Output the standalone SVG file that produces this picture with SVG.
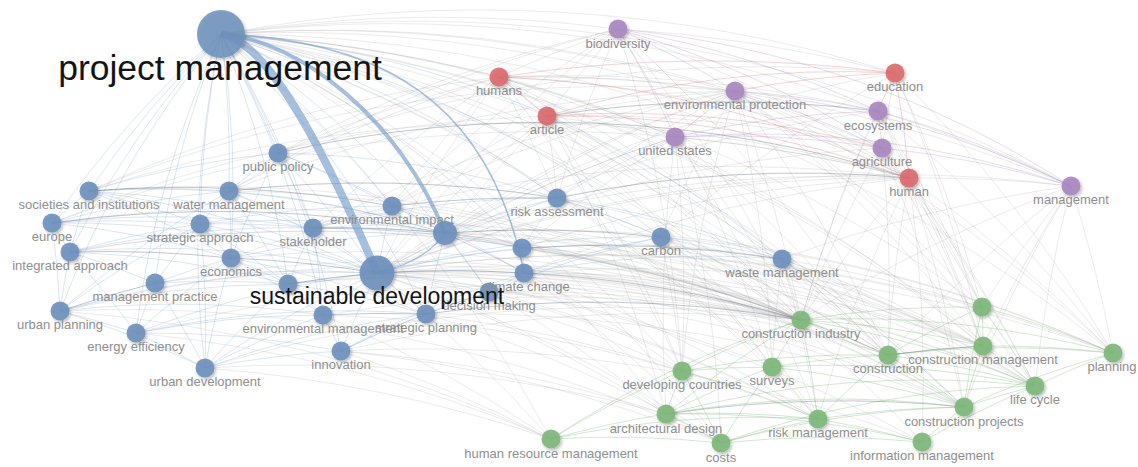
<svg xmlns="http://www.w3.org/2000/svg" width="1138" height="467" viewBox="0 0 1138 467">
<style>
  .edges path{fill:none}
  .eg path{stroke:#8c8c8c;stroke-opacity:.2;stroke-width:.9}
  .eb path{stroke:#7399c6;stroke-opacity:.28;stroke-width:.9}
  .er path{stroke:#e07f82;stroke-opacity:.38;stroke-width:.9}
  .ep path{stroke:#a987bf;stroke-opacity:.32;stroke-width:.9}
  .en path{stroke:#7fb87a;stroke-opacity:.38;stroke-width:.9}
  .ed path{stroke:#5d6b7c;stroke-opacity:.38;stroke-width:1}
  .strong path{stroke:#7ba0cb;stroke-opacity:.68}
  .node circle{filter:url(#shade);fill-opacity:.9}
  .blue circle{fill:#6d90bc}
  .red circle{fill:#dc6a6d}
  .purple circle{fill:#a886c0}
  .green circle{fill:#7db879}
  .node text{font-family:"Liberation Sans",Arial,sans-serif;font-size:13px;fill:#8e8e8e;text-anchor:middle}
  .node text.big{fill:#141414}
</style>
<defs>
  <filter id="shade" x="-50%" y="-50%" width="200%" height="200%">
    <feDropShadow dx="1.5" dy="2" stdDeviation="1.6" flood-color="#000" flood-opacity=".28"/>
  </filter>
</defs>
<rect width="1138" height="467" fill="#fff"/>

<g id="connectors" class="edges">
  <!-- links between clusters -->
  <g class="eg">
    <path d="M221 34A1400 1400 0 0 1 499 77"/><path d="M221 34A1400 1400 0 0 1 547 116"/><path d="M221 34A1400 1400 0 0 1 618 29"/>
    <path d="M221 34A1400 1400 0 0 1 735 91"/><path d="M221 34A1400 1400 0 0 1 675 137"/><path d="M221 34A1400 1400 0 0 1 895 73"/>
    <path d="M221 34A1400 1400 0 0 1 878 111"/><path d="M221 34A1400 1400 0 0 1 882 148"/><path d="M221 34A1400 1400 0 0 1 909 178"/>
    <path d="M221 34A1400 1400 0 0 1 1071 186"/><path d="M221 34A1400 1400 0 0 1 801 320"/><path d="M221 34A1400 1400 0 0 1 888 355"/>
    <path d="M221 34A1400 1400 0 0 1 983 346"/><path d="M221 34A1400 1400 0 0 1 1113 353"/><path d="M221 34A1400 1400 0 0 1 1035 386"/>
    <path d="M221 34A1400 1400 0 0 1 964 407"/><path d="M221 34A1400 1400 0 0 1 982 307"/><path d="M221 34A1400 1400 0 0 1 772 367"/>
    <path d="M221 34A1400 1400 0 0 1 682 371"/><path d="M221 34A1400 1400 0 0 1 666 414"/><path d="M221 34A1400 1400 0 0 1 818 419"/>
    <path d="M221 34A1400 1400 0 0 1 721 443"/><path d="M221 34A1400 1400 0 0 1 551 439"/><path d="M221 34A1400 1400 0 0 1 922 442"/>

    <path d="M377 273A1400 1400 0 0 1 499 77"/><path d="M377 273A1400 1400 0 0 1 547 116"/><path d="M377 273A1400 1400 0 0 1 618 29"/>
    <path d="M377 273A1400 1400 0 0 1 735 91"/><path d="M377 273A1400 1400 0 0 1 675 137"/><path d="M377 273A1400 1400 0 0 1 895 73"/>
    <path d="M377 273A1400 1400 0 0 1 878 111"/><path d="M377 273A1400 1400 0 0 1 882 148"/><path d="M377 273A1400 1400 0 0 1 909 178"/>
    <path d="M377 273A1400 1400 0 0 1 1071 186"/><path d="M377 273A1400 1400 0 0 1 801 320"/><path d="M377 273A1400 1400 0 0 1 888 355"/>
    <path d="M377 273A1400 1400 0 0 1 983 346"/><path d="M377 273A1400 1400 0 0 1 1113 353"/><path d="M377 273A1400 1400 0 0 1 1035 386"/>
    <path d="M377 273A1400 1400 0 0 1 964 407"/><path d="M377 273A1400 1400 0 0 1 982 307"/><path d="M377 273A1400 1400 0 0 1 772 367"/>
    <path d="M377 273A1400 1400 0 0 1 682 371"/><path d="M377 273A1400 1400 0 0 1 666 414"/><path d="M377 273A1400 1400 0 0 1 818 419"/>
    <path d="M377 273A1400 1400 0 0 1 721 443"/><path d="M377 273A1400 1400 0 0 1 922 442"/><path d="M377 273A1400 1400 0 0 1 551 439"/>

    <path d="M445 233A1400 1400 0 0 1 801 320"/><path d="M445 233A1400 1400 0 0 1 888 355"/><path d="M445 233A1400 1400 0 0 1 983 346"/>
    <path d="M445 233A1400 1400 0 0 1 1113 353"/><path d="M445 233A1400 1400 0 0 1 909 178"/><path d="M445 233A1400 1400 0 0 1 735 91"/>
    <path d="M445 233A1400 1400 0 0 1 675 137"/><path d="M445 233A1400 1400 0 0 1 547 116"/><path d="M445 233A1400 1400 0 0 1 1035 386"/>
    <path d="M445 233A1400 1400 0 0 1 964 407"/><path d="M445 233A1400 1400 0 0 1 682 371"/>

    <path d="M557 198A1400 1400 0 0 1 801 320"/><path d="M557 198A1400 1400 0 0 1 735 91"/><path d="M557 198A1400 1400 0 0 1 675 137"/>
    <path d="M557 198A1400 1400 0 0 1 888 355"/><path d="M557 198A1400 1400 0 0 1 1035 386"/><path d="M499 77A1400 1400 0 0 1 557 198"/>
    <path d="M547 116A1400 1400 0 0 1 557 198"/><path d="M557 198A1400 1400 0 0 1 618 29"/>

    <path d="M661 237A1400 1400 0 0 1 801 320"/><path d="M661 237A1400 1400 0 0 1 888 355"/><path d="M661 237A1400 1400 0 0 1 983 346"/>
    <path d="M661 237A1400 1400 0 0 1 1113 353"/><path d="M661 237A1400 1400 0 0 1 1035 386"/><path d="M661 237A1400 1400 0 0 1 895 73"/>
    <path d="M661 237A1400 1400 0 0 1 735 91"/><path d="M661 237A1400 1400 0 0 1 682 371"/><path d="M661 237A1400 1400 0 0 1 772 367"/>

    <path d="M522 248A1400 1400 0 0 1 801 320"/><path d="M522 248A1400 1400 0 0 1 888 355"/><path d="M522 248A1400 1400 0 0 1 983 346"/>
    <path d="M522 248A1400 1400 0 0 1 964 407"/><path d="M522 248A1400 1400 0 0 1 909 178"/><path d="M522 248A1400 1400 0 0 1 675 137"/>

    <path d="M524 273A1400 1400 0 0 1 801 320"/><path d="M524 273A1400 1400 0 0 1 983 346"/><path d="M524 273A1400 1400 0 0 1 1035 386"/>
    <path d="M524 273A1400 1400 0 0 1 1113 353"/><path d="M524 273A1400 1400 0 0 1 909 178"/><path d="M524 273A1400 1400 0 0 1 818 419"/>
    <path d="M524 273A1400 1400 0 0 1 721 443"/>

    <path d="M489 292A1400 1400 0 0 1 801 320"/><path d="M489 292A1400 1400 0 0 1 888 355"/><path d="M489 292A1400 1400 0 0 1 964 407"/>
    <path d="M489 292A1400 1400 0 0 1 666 414"/><path d="M489 292A1400 1400 0 0 1 818 419"/>

    <path d="M392 206A1400 1400 0 0 1 801 320"/><path d="M392 206A1400 1400 0 0 1 735 91"/><path d="M392 206A1400 1400 0 0 1 499 77"/>
    <path d="M392 206A1400 1400 0 0 1 547 116"/><path d="M392 206A1400 1400 0 0 1 618 29"/>
    <path d="M313 228A1400 1400 0 0 1 801 320"/><path d="M313 228A1400 1400 0 0 1 983 346"/><path d="M313 228A1400 1400 0 0 1 499 77"/>
    <path d="M313 228A1400 1400 0 0 1 735 91"/>
    <path d="M278 153A1400 1400 0 0 1 618 29"/><path d="M278 153A1400 1400 0 0 1 895 73"/><path d="M278 153A1400 1400 0 0 1 499 77"/>
    <path d="M229 191A1400 1400 0 0 1 801 320"/><path d="M229 191A1400 1400 0 0 1 618 29"/><path d="M229 191A1400 1400 0 0 1 735 91"/>
    <path d="M229 191A1400 1400 0 0 1 499 77"/>
    <path d="M89 191A1400 1400 0 0 1 801 320"/><path d="M89 191A1400 1400 0 0 1 909 178"/><path d="M89 191A1400 1400 0 0 1 735 91"/>
    <path d="M89 191A1400 1400 0 0 1 499 77"/>
    <path d="M52 223A1400 1400 0 0 1 801 320"/><path d="M52 223A1400 1400 0 0 1 547 116"/><path d="M52 223A1400 1400 0 0 1 909 178"/>
    <path d="M70 252A1400 1400 0 0 1 801 320"/><path d="M70 252A1400 1400 0 0 1 888 355"/>
    <path d="M60 311A1400 1400 0 0 1 551 439"/><path d="M60 311A1400 1400 0 0 1 801 320"/><path d="M60 311A1400 1400 0 0 1 721 443"/>
    <path d="M205 368A1400 1400 0 0 1 551 439"/><path d="M205 368A1400 1400 0 0 1 801 320"/><path d="M205 368A1400 1400 0 0 1 666 414"/>
    <path d="M136 333A1400 1400 0 0 1 551 439"/><path d="M136 333A1400 1400 0 0 1 801 320"/>
    <path d="M341 351A1400 1400 0 0 1 551 439"/><path d="M341 351A1400 1400 0 0 1 801 320"/><path d="M341 351A1400 1400 0 0 1 721 443"/>
    <path d="M341 351A1400 1400 0 0 1 666 414"/><path d="M341 351A1400 1400 0 0 1 922 442"/>
    <path d="M323 315A1400 1400 0 0 1 801 320"/><path d="M323 315A1400 1400 0 0 1 551 439"/><path d="M323 315A1400 1400 0 0 1 818 419"/>
    <path d="M426 314A1400 1400 0 0 1 964 407"/><path d="M426 314A1400 1400 0 0 1 682 371"/><path d="M426 314A1400 1400 0 0 1 721 443"/>
    <path d="M231 258A1400 1400 0 0 1 801 320"/><path d="M231 258A1400 1400 0 0 1 909 178"/>
    <path d="M155 283A1400 1400 0 0 1 801 320"/>
    <path d="M288 284A1400 1400 0 0 1 801 320"/><path d="M288 284A1400 1400 0 0 1 888 355"/>

    <path d="M782 259A1400 1400 0 0 1 801 320"/><path d="M782 259A1400 1400 0 0 1 888 355"/><path d="M782 259A1400 1400 0 0 1 983 346"/>
    <path d="M782 259A1400 1400 0 0 1 982 307"/><path d="M782 259A1400 1400 0 0 1 1035 386"/><path d="M782 259A1400 1400 0 0 1 964 407"/>
    <path d="M772 367A1400 1400 0 0 1 782 259"/><path d="M782 259A1400 1400 0 0 1 818 419"/><path d="M782 259A1400 1400 0 0 1 1071 186"/>

    <path d="M499 77A1400 1400 0 0 1 618 29"/><path d="M499 77A1400 1400 0 0 1 735 91"/><path d="M499 77A1400 1400 0 0 1 675 137"/>
    <path d="M499 77A1400 1400 0 0 1 878 111"/><path d="M499 77A1400 1400 0 0 1 882 148"/><path d="M499 77A1400 1400 0 0 1 1071 186"/>
    <path d="M499 77A1400 1400 0 0 1 801 320"/><path d="M499 77A1400 1400 0 0 1 888 355"/><path d="M499 77A1400 1400 0 0 1 983 346"/>
    <path d="M499 77A1400 1400 0 0 1 682 371"/><path d="M499 77A1400 1400 0 0 1 772 367"/>

    <path d="M547 116A1400 1400 0 0 1 735 91"/><path d="M547 116A1400 1400 0 0 1 675 137"/><path d="M547 116A1400 1400 0 0 1 882 148"/>
    <path d="M547 116A1400 1400 0 0 1 801 320"/><path d="M547 116A1400 1400 0 0 1 682 371"/><path d="M547 116A1400 1400 0 0 1 666 414"/>
    <path d="M547 116A1400 1400 0 0 1 888 355"/><path d="M547 116A1400 1400 0 0 1 964 407"/><path d="M547 116A1400 1400 0 0 1 818 419"/>
    <path d="M547 116A1400 1400 0 0 1 618 29"/>

    <path d="M618 29A1400 1400 0 0 1 895 73"/><path d="M618 29A1400 1400 0 0 1 909 178"/><path d="M618 29A1400 1400 0 0 1 801 320"/>
    <path d="M618 29A1400 1400 0 0 1 682 371"/><path d="M618 29A1400 1400 0 0 1 772 367"/><path d="M618 29A1400 1400 0 0 1 888 355"/>

    <path d="M735 91A1400 1400 0 0 1 801 320"/><path d="M735 91A1400 1400 0 0 1 888 355"/><path d="M735 91A1400 1400 0 0 1 983 346"/>
    <path d="M735 91A1400 1400 0 0 1 1113 353"/><path d="M735 91A1400 1400 0 0 1 1035 386"/><path d="M682 371A1400 1400 0 0 1 735 91"/>
    <path d="M735 91A1400 1400 0 0 1 772 367"/><path d="M735 91A1400 1400 0 0 1 982 307"/><path d="M735 91A1400 1400 0 0 1 909 178"/>

    <path d="M675 137A1400 1400 0 0 1 801 320"/><path d="M675 137A1400 1400 0 0 1 682 371"/><path d="M666 414A1400 1400 0 0 1 675 137"/>
    <path d="M675 137A1400 1400 0 0 1 818 419"/><path d="M675 137A1400 1400 0 0 1 909 178"/><path d="M675 137A1400 1400 0 0 1 888 355"/>
    <path d="M675 137A1400 1400 0 0 1 721 443"/>

    <path d="M895 73A1400 1400 0 0 1 1113 353"/><path d="M895 73A1400 1400 0 0 1 983 346"/><path d="M895 73A1400 1400 0 0 1 982 307"/>
    <path d="M801 320A1400 1400 0 0 1 895 73"/><path d="M878 111A1400 1400 0 0 1 895 73"/><path d="M882 148A1400 1400 0 0 1 895 73"/>

    <path d="M878 111A1400 1400 0 0 1 982 307"/><path d="M878 111A1400 1400 0 0 1 983 346"/><path d="M878 111A1400 1400 0 0 1 1113 353"/>
    <path d="M801 320A1400 1400 0 0 1 878 111"/><path d="M878 111A1400 1400 0 0 1 909 178"/>

    <path d="M801 320A1400 1400 0 0 1 882 148"/><path d="M882 148A1400 1400 0 0 1 888 355"/><path d="M882 148A1400 1400 0 0 1 983 346"/>
    <path d="M882 148A1400 1400 0 0 1 982 307"/><path d="M882 148A1400 1400 0 0 1 964 407"/><path d="M882 148A1400 1400 0 0 1 909 178"/>
    <path d="M882 148A1400 1400 0 0 1 1035 386"/>

    <path d="M801 320A1400 1400 0 0 1 909 178"/><path d="M888 355A1400 1400 0 0 1 909 178"/><path d="M909 178A1400 1400 0 0 1 983 346"/>
    <path d="M909 178A1400 1400 0 0 1 982 307"/><path d="M909 178A1400 1400 0 0 1 1113 353"/><path d="M909 178A1400 1400 0 0 1 1035 386"/>
    <path d="M818 419A1400 1400 0 0 1 909 178"/><path d="M909 178A1400 1400 0 0 1 922 442"/><path d="M909 178A1400 1400 0 0 1 964 407"/>
    <path d="M909 178A1400 1400 0 0 1 1071 186"/>

    <path d="M1071 186A1400 1400 0 0 1 1113 353"/><path d="M983 346A1400 1400 0 0 1 1071 186"/><path d="M1035 386A1400 1400 0 0 1 1071 186"/>
    <path d="M982 307A1400 1400 0 0 1 1071 186"/><path d="M801 320A1400 1400 0 0 1 1071 186"/><path d="M888 355A1400 1400 0 0 1 1071 186"/>
    <path d="M964 407A1400 1400 0 0 1 1071 186"/><path d="M878 111A1400 1400 0 0 1 1071 186"/>
  </g>

  <!-- blue cluster links -->
  <g class="eb">
    <path d="M52 223A1000 1000 0 0 1 221 34"/><path d="M89 191A1000 1000 0 0 1 221 34"/><path d="M70 252A1000 1000 0 0 1 221 34"/>
    <path d="M60 311A1000 1000 0 0 1 221 34"/><path d="M136 333A1000 1000 0 0 1 221 34"/><path d="M155 283A1000 1000 0 0 1 221 34"/>
    <path d="M200 224A1000 1000 0 0 1 221 34"/><path d="M205 368A1000 1000 0 0 1 221 34"/><path d="M221 34A1000 1000 0 0 1 229 191"/>
    <path d="M221 34A1000 1000 0 0 1 231 258"/><path d="M221 34A1000 1000 0 0 1 278 153"/><path d="M221 34A1000 1000 0 0 1 288 284"/>
    <path d="M221 34A1000 1000 0 0 1 313 228"/><path d="M221 34A1000 1000 0 0 1 323 315"/><path d="M221 34A1000 1000 0 0 1 341 351"/>
    <path d="M221 34A1000 1000 0 0 1 392 206"/><path d="M221 34A1000 1000 0 0 1 426 314"/><path d="M221 34A1000 1000 0 0 1 489 292"/>
    <path d="M221 34A1000 1000 0 0 1 522 248"/><path d="M221 34A1000 1000 0 0 1 557 198"/><path d="M221 34A1000 1000 0 0 1 661 237"/>
    <path d="M221 34A1000 1000 0 0 1 782 259"/>

    <path d="M52 223A1000 1000 0 0 1 377 273"/><path d="M89 191A1000 1000 0 0 1 377 273"/><path d="M70 252A1000 1000 0 0 1 377 273"/>
    <path d="M60 311A1000 1000 0 0 1 377 273"/><path d="M136 333A1000 1000 0 0 1 377 273"/><path d="M155 283A1000 1000 0 0 1 377 273"/>
    <path d="M200 224A1000 1000 0 0 1 377 273"/><path d="M205 368A1000 1000 0 0 1 377 273"/><path d="M229 191A1000 1000 0 0 1 377 273"/>
    <path d="M278 153A1000 1000 0 0 1 377 273"/><path d="M313 228A1000 1000 0 0 1 377 273"/><path d="M323 315A1000 1000 0 0 1 377 273"/>
    <path d="M341 351A1000 1000 0 0 1 377 273"/><path d="M377 273A1000 1000 0 0 1 392 206"/><path d="M377 273A1000 1000 0 0 1 426 314"/>
    <path d="M377 273A1000 1000 0 0 1 489 292"/><path d="M377 273A1000 1000 0 0 1 522 248"/><path d="M377 273A1000 1000 0 0 1 557 198"/>
    <path d="M377 273A1000 1000 0 0 1 661 237"/><path d="M377 273A1000 1000 0 0 1 782 259"/>

    <path d="M313 228A1000 1000 0 0 1 445 233"/><path d="M392 206A1000 1000 0 0 1 445 233"/><path d="M229 191A1000 1000 0 0 1 445 233"/>
    <path d="M200 224A1000 1000 0 0 1 445 233"/><path d="M278 153A1000 1000 0 0 1 445 233"/><path d="M231 258A1000 1000 0 0 1 445 233"/>
    <path d="M445 233A1000 1000 0 0 1 522 248"/><path d="M445 233A1000 1000 0 0 1 524 273"/><path d="M445 233A1000 1000 0 0 1 489 292"/>
    <path d="M426 314A1000 1000 0 0 1 445 233"/><path d="M445 233A1000 1000 0 0 1 557 198"/><path d="M89 191A1000 1000 0 0 1 445 233"/>

    <path d="M89 191A1000 1000 0 0 1 229 191"/><path d="M52 223A1000 1000 0 0 1 89 191"/><path d="M89 191A1000 1000 0 0 1 200 224"/>
    <path d="M70 252A1000 1000 0 0 1 89 191"/><path d="M89 191A1000 1000 0 0 1 313 228"/><path d="M89 191A1000 1000 0 0 1 231 258"/>
    <path d="M89 191A1000 1000 0 0 1 278 153"/><path d="M52 223A1000 1000 0 0 1 70 252"/><path d="M52 223A1000 1000 0 0 1 200 224"/>
    <path d="M52 223A1000 1000 0 0 1 229 191"/><path d="M52 223A1000 1000 0 0 1 231 258"/><path d="M52 223A1000 1000 0 0 1 60 311"/>
    <path d="M52 223A1000 1000 0 0 1 313 228"/><path d="M70 252A1000 1000 0 0 1 155 283"/><path d="M60 311A1000 1000 0 0 1 70 252"/>
    <path d="M70 252A1000 1000 0 0 1 136 333"/><path d="M70 252A1000 1000 0 0 1 200 224"/><path d="M70 252A1000 1000 0 0 1 313 228"/>
    <path d="M70 252A1000 1000 0 0 1 288 284"/><path d="M136 333A1000 1000 0 0 1 155 283"/><path d="M155 283A1000 1000 0 0 1 205 368"/>
    <path d="M155 283A1000 1000 0 0 1 231 258"/><path d="M155 283A1000 1000 0 0 1 288 284"/><path d="M155 283A1000 1000 0 0 1 200 224"/>
    <path d="M60 311A1000 1000 0 0 1 136 333"/><path d="M60 311A1000 1000 0 0 1 205 368"/><path d="M60 311A1000 1000 0 0 1 288 284"/>
    <path d="M60 311A1000 1000 0 0 1 323 315"/><path d="M60 311A1000 1000 0 0 1 200 224"/><path d="M60 311A1000 1000 0 0 1 229 191"/>
    <path d="M136 333A1000 1000 0 0 1 205 368"/><path d="M136 333A1000 1000 0 0 1 323 315"/><path d="M136 333A1000 1000 0 0 1 341 351"/>
    <path d="M136 333A1000 1000 0 0 1 231 258"/><path d="M205 368A1000 1000 0 0 1 341 351"/><path d="M205 368A1000 1000 0 0 1 323 315"/>
    <path d="M205 368A1000 1000 0 0 1 231 258"/><path d="M200 224A1000 1000 0 0 1 205 368"/><path d="M205 368A1000 1000 0 0 1 288 284"/>
    <path d="M200 224A1000 1000 0 0 1 229 191"/><path d="M229 191A1000 1000 0 0 1 313 228"/><path d="M229 191A1000 1000 0 0 1 231 258"/>
    <path d="M229 191A1000 1000 0 0 1 288 284"/><path d="M229 191A1000 1000 0 0 1 278 153"/><path d="M278 153A1000 1000 0 0 1 313 228"/>
    <path d="M278 153A1000 1000 0 0 1 392 206"/><path d="M231 258A1000 1000 0 0 1 278 153"/><path d="M278 153A1000 1000 0 0 1 557 198"/>
    <path d="M200 224A1000 1000 0 0 1 231 258"/><path d="M200 224A1000 1000 0 0 1 313 228"/><path d="M200 224A1000 1000 0 0 1 288 284"/>
    <path d="M200 224A1000 1000 0 0 1 392 206"/><path d="M313 228A1000 1000 0 0 1 392 206"/><path d="M288 284A1000 1000 0 0 1 313 228"/>
    <path d="M313 228A1000 1000 0 0 1 323 315"/><path d="M313 228A1000 1000 0 0 1 557 198"/><path d="M231 258A1000 1000 0 0 1 288 284"/>
    <path d="M231 258A1000 1000 0 0 1 323 315"/><path d="M231 258A1000 1000 0 0 1 426 314"/><path d="M288 284A1000 1000 0 0 1 323 315"/>
    <path d="M288 284A1000 1000 0 0 1 426 314"/><path d="M288 284A1000 1000 0 0 1 524 273"/><path d="M323 315A1000 1000 0 0 1 341 351"/>
    <path d="M426 314A1000 1000 0 0 1 489 292"/><path d="M341 351A1000 1000 0 0 1 426 314"/><path d="M489 292A1000 1000 0 0 1 524 273"/>
    <path d="M522 248A1000 1000 0 0 1 524 273"/><path d="M522 248A1000 1000 0 0 1 557 198"/><path d="M557 198A1000 1000 0 0 1 661 237"/>
    <path d="M661 237A1000 1000 0 0 1 782 259"/><path d="M524 273A1000 1000 0 0 1 661 237"/><path d="M489 292A1000 1000 0 0 1 661 237"/>
    <path d="M392 206A1000 1000 0 0 1 522 248"/><path d="M392 206A1000 1000 0 0 1 524 273"/><path d="M313 228A1000 1000 0 0 1 522 248"/>
    <path d="M524 273A1000 1000 0 0 1 782 259"/><path d="M557 198A1000 1000 0 0 1 782 259"/><path d="M341 351A1000 1000 0 0 1 489 292"/>
    <path d="M341 351A1000 1000 0 0 1 524 273"/><path d="M205 368A1000 1000 0 0 1 426 314"/><path d="M136 333A1000 1000 0 0 1 426 314"/>
  </g>

  <!-- red cluster links -->
  <g class="er">
    <path d="M499 77A1000 1000 0 0 1 547 116"/><path d="M499 77A1000 1000 0 0 1 909 178"/><path d="M547 116A1000 1000 0 0 1 895 73"/>
    <path d="M547 116A1000 1000 0 0 1 909 178"/><path d="M895 73A1000 1000 0 0 1 909 178"/><path d="M735 91A1000 1000 0 0 1 895 73"/>
    <path d="M547 116A1000 1000 0 0 1 882 148"/><path d="M499 77A1400 1400 0 0 1 895 73"/>
  </g>

  <!-- purple cluster links -->
  <g class="ep">
    <path d="M618 29A1000 1000 0 0 1 735 91"/><path d="M618 29A1000 1000 0 0 1 878 111"/><path d="M618 29A1000 1000 0 0 1 882 148"/>
    <path d="M618 29A1000 1000 0 0 1 1071 186"/><path d="M618 29A1000 1000 0 0 1 675 137"/><path d="M675 137A1000 1000 0 0 1 735 91"/>
    <path d="M735 91A1000 1000 0 0 1 878 111"/><path d="M735 91A1000 1000 0 0 1 882 148"/><path d="M735 91A1000 1000 0 0 1 1071 186"/>
    <path d="M675 137A1000 1000 0 0 1 878 111"/><path d="M675 137A1000 1000 0 0 1 882 148"/><path d="M878 111A1000 1000 0 0 1 882 148"/>
    <path d="M878 111A1000 1000 0 0 1 1071 186"/><path d="M882 148A1000 1000 0 0 1 1071 186"/><path d="M675 137A1000 1000 0 0 1 1071 186"/>
  </g>

  <!-- green cluster links -->
  <g class="en">
    <path d="M801 320A1000 1000 0 0 1 982 307"/><path d="M801 320A1000 1000 0 0 1 983 346"/><path d="M801 320A1000 1000 0 0 1 888 355"/>
    <path d="M772 367A1000 1000 0 0 1 801 320"/><path d="M682 371A1000 1000 0 0 1 801 320"/><path d="M801 320A1000 1000 0 0 1 1035 386"/>
    <path d="M801 320A1000 1000 0 0 1 964 407"/><path d="M801 320A1000 1000 0 0 1 1113 353"/><path d="M666 414A1000 1000 0 0 1 801 320"/>
    <path d="M801 320A1000 1000 0 0 1 818 419"/><path d="M982 307A1000 1000 0 0 1 983 346"/><path d="M982 307A1000 1000 0 0 1 1113 353"/>
    <path d="M982 307A1000 1000 0 0 1 1035 386"/><path d="M888 355A1000 1000 0 0 1 982 307"/><path d="M964 407A1000 1000 0 0 1 982 307"/>
    <path d="M983 346A1000 1000 0 0 1 1113 353"/><path d="M983 346A1000 1000 0 0 1 1035 386"/><path d="M964 407A1000 1000 0 0 1 983 346"/>
    <path d="M772 367A1000 1000 0 0 1 888 355"/><path d="M888 355A1000 1000 0 0 1 1113 353"/><path d="M888 355A1000 1000 0 0 1 1035 386"/>
    <path d="M888 355A1000 1000 0 0 1 964 407"/><path d="M682 371A1000 1000 0 0 1 888 355"/><path d="M818 419A1000 1000 0 0 1 888 355"/>
    <path d="M682 371A1000 1000 0 0 1 772 367"/><path d="M666 414A1000 1000 0 0 1 682 371"/><path d="M682 371A1000 1000 0 0 1 721 443"/>
    <path d="M682 371A1000 1000 0 0 1 818 419"/><path d="M666 414A1000 1000 0 0 1 772 367"/><path d="M721 443A1000 1000 0 0 1 772 367"/>
    <path d="M772 367A1000 1000 0 0 1 818 419"/><path d="M772 367A1000 1000 0 0 1 1035 386"/><path d="M772 367A1000 1000 0 0 1 964 407"/>
    <path d="M964 407A1000 1000 0 0 1 1035 386"/><path d="M1035 386A1000 1000 0 0 1 1113 353"/><path d="M666 414A1000 1000 0 0 1 1035 386"/>
    <path d="M721 443A1000 1000 0 0 1 1035 386"/><path d="M922 442A1000 1000 0 0 1 1035 386"/><path d="M666 414A1000 1000 0 0 1 964 407"/>
    <path d="M666 414A1000 1000 0 0 1 818 419"/><path d="M666 414A1000 1000 0 0 1 721 443"/><path d="M551 439A1000 1000 0 0 1 666 414"/>
    <path d="M551 439A1000 1000 0 0 1 721 443"/><path d="M551 439A1000 1000 0 0 1 682 371"/><path d="M551 439A1000 1000 0 0 1 818 419"/>
    <path d="M721 443A1000 1000 0 0 1 922 442"/><path d="M721 443A1000 1000 0 0 1 818 419"/><path d="M721 443A1000 1000 0 0 1 964 407"/>
    <path d="M818 419A1000 1000 0 0 1 964 407"/><path d="M818 419A1000 1000 0 0 1 922 442"/><path d="M922 442A1000 1000 0 0 1 964 407"/>
    <path d="M964 407A1000 1000 0 0 1 1113 353"/><path d="M551 439A1000 1000 0 0 1 801 320"/><path d="M666 414A1000 1000 0 0 1 922 442"/>
    <path d="M888 355A1000 1000 0 0 1 983 346"/>
  </g>

  <!-- heavier links -->
  <g class="ed">
    <path d="M89 191A1200 1200 0 0 1 392 206"/><path d="M52 223A1200 1200 0 0 1 445 233"/><path d="M70 252A1200 1200 0 0 1 231 258"/>
    <path d="M60 311A1200 1200 0 0 1 155 283"/><path d="M278 153A1200 1200 0 0 1 909 178"/><path d="M229 191A1200 1200 0 0 1 557 198"/>
    <path d="M313 228A1200 1200 0 0 1 445 233"/><path d="M392 206A1200 1200 0 0 1 557 198"/><path d="M445 233A1200 1200 0 0 1 661 237"/>
    <path d="M522 248A1200 1200 0 0 1 782 259"/><path d="M524 273A1200 1200 0 0 1 801 320"/><path d="M377 273A1200 1200 0 0 1 524 273"/>
    <path d="M426 314A1200 1200 0 0 1 801 320"/><path d="M323 315A1200 1200 0 0 1 426 314"/><path d="M557 198A1200 1200 0 0 1 909 178"/>
    <path d="M547 116A1200 1200 0 0 1 878 111"/><path d="M666 414A1200 1200 0 0 1 964 407"/><path d="M888 355A1200 1200 0 0 1 983 346"/>
    <path d="M231 258A1200 1200 0 0 1 377 273"/><path d="M288 284A1200 1200 0 0 1 377 273"/>
  </g>

  <!-- strongest links of the two main terms -->
  <g class="strong">
    <path d="M221 34C265 40 320 140 377 273" stroke-width="8"/>
    <path d="M221 34C300 40 400 120 445 233" stroke-width="4"/>
    <path d="M221 34C380 40 490 100 524 273" stroke-width="1.6"/>
    <path d="M377 273Q425 262 445 233" stroke-width="1.3"/>
  </g>
</g>

<!-- blue cluster -->
<g id="n-public-policy" class="node blue"><circle cx="278" cy="153" r="9.5"/><text x="278" y="171">public policy</text></g>
<g id="n-societies-and-institutions" class="node blue"><circle cx="89" cy="191" r="9.5"/><text x="89" y="209">societies and institutions</text></g>
<g id="n-water-management" class="node blue"><circle cx="229" cy="191" r="9.5"/><text x="229" y="209">water management</text></g>
<g id="n-europe" class="node blue"><circle cx="52" cy="223" r="9.5"/><text x="52" y="241">europe</text></g>
<g id="n-strategic-approach" class="node blue"><circle cx="200" cy="224" r="9.5"/><text x="200" y="242">strategic approach</text></g>
<g id="n-stakeholder" class="node blue"><circle cx="313" cy="228" r="9.5"/><text x="313" y="246">stakeholder</text></g>
<g id="n-environmental-impact" class="node blue"><circle cx="392" cy="206" r="9.5"/><text x="392" y="224">environmental impact</text></g>
<g id="n-unlabeled-1" class="node blue"><circle cx="445" cy="233" r="12"/></g>
<g id="n-risk-assessment" class="node blue"><circle cx="557" cy="198" r="9.5"/><text x="557" y="216">risk assessment</text></g>
<g id="n-carbon" class="node blue"><circle cx="661" cy="237" r="9.5"/><text x="661" y="255">carbon</text></g>
<g id="n-integrated-approach" class="node blue"><circle cx="70" cy="252" r="9.5"/><text x="70" y="270">integrated approach</text></g>
<g id="n-economics" class="node blue"><circle cx="231" cy="258" r="9.5"/><text x="231" y="276">economics</text></g>
<g id="n-unlabeled-2" class="node blue"><circle cx="522" cy="248" r="9.5"/></g>
<g id="n-decision-making" class="node blue"><circle cx="489" cy="292" r="9.5"/><text x="489" y="310">decision making</text></g>
<g id="n-climate-change" class="node blue"><circle cx="524" cy="273" r="9.5"/><text x="526" y="291">climate change</text></g>
<g id="n-management-practice" class="node blue"><circle cx="155" cy="283" r="9.5"/><text x="155" y="301">management practice</text></g>
<g id="n-unlabeled-3" class="node blue"><circle cx="288" cy="284" r="9.5"/></g>
<g id="n-urban-planning" class="node blue"><circle cx="60" cy="311" r="9.5"/><text x="60" y="329">urban planning</text></g>
<g id="n-environmental-management" class="node blue"><circle cx="323" cy="315" r="9.5"/><text x="323" y="333">environmental management</text></g>
<g id="n-strategic-planning" class="node blue"><circle cx="426" cy="314" r="9.5"/><text x="426" y="332">strategic planning</text></g>
<g id="n-energy-efficiency" class="node blue"><circle cx="136" cy="333" r="9.5"/><text x="136" y="351">energy efficiency</text></g>
<g id="n-innovation" class="node blue"><circle cx="341" cy="351" r="9.5"/><text x="341" y="369">innovation</text></g>
<g id="n-urban-development" class="node blue"><circle cx="205" cy="368" r="9.5"/><text x="205" y="386">urban development</text></g>
<g id="n-waste-management" class="node blue"><circle cx="782" cy="259" r="9.5"/><text x="782" y="277">waste management</text></g>

<!-- red cluster -->
<g id="n-humans" class="node red"><circle cx="499" cy="77" r="9.5"/><text x="499" y="95">humans</text></g>
<g id="n-article" class="node red"><circle cx="547" cy="116" r="9.5"/><text x="547" y="134">article</text></g>
<g id="n-education" class="node red"><circle cx="895" cy="73" r="9.5"/><text x="895" y="91">education</text></g>
<g id="n-human" class="node red"><circle cx="909" cy="178" r="9.5"/><text x="909" y="196">human</text></g>

<!-- purple cluster -->
<g id="n-biodiversity" class="node purple"><circle cx="618" cy="29" r="9.5"/><text x="618" y="48">biodiversity</text></g>
<g id="n-environmental-protection" class="node purple"><circle cx="735" cy="91" r="9.5"/><text x="735" y="109">environmental protection</text></g>
<g id="n-ecosystems" class="node purple"><circle cx="878" cy="111" r="9.5"/><text x="878" y="130">ecosystems</text></g>
<g id="n-united-states" class="node purple"><circle cx="675" cy="137" r="9.5"/><text x="675" y="155">united states</text></g>
<g id="n-agriculture" class="node purple"><circle cx="882" cy="148" r="9.5"/><text x="882" y="166">agriculture</text></g>
<g id="n-management" class="node purple"><circle cx="1071" cy="186" r="9.5"/><text x="1071" y="204">management</text></g>

<!-- green cluster -->
<g id="n-human-resource-management" class="node green"><circle cx="551" cy="439" r="9.5"/><text x="551" y="458">human resource management</text></g>
<g id="n-construction-industry" class="node green"><circle cx="801" cy="320" r="9.5"/><text x="801" y="338">construction industry</text></g>
<g id="n-unlabeled-4" class="node green"><circle cx="982" cy="307" r="9.5"/></g>
<g id="n-construction" class="node green"><circle cx="888" cy="355" r="9.5"/><text x="888" y="373">construction</text></g>
<g id="n-construction-management" class="node green"><circle cx="983" cy="346" r="9.5"/><text x="983" y="364">construction management</text></g>
<g id="n-planning" class="node green"><circle cx="1113" cy="353" r="9.5"/><text x="1112" y="371">planning</text></g>
<g id="n-developing-countries" class="node green"><circle cx="682" cy="371" r="9.5"/><text x="682" y="389">developing countries</text></g>
<g id="n-surveys" class="node green"><circle cx="772" cy="367" r="9.5"/><text x="772" y="385">surveys</text></g>
<g id="n-life-cycle" class="node green"><circle cx="1035" cy="386" r="9.5"/><text x="1035" y="404">life cycle</text></g>
<g id="n-architectural-design" class="node green"><circle cx="666" cy="414" r="9.5"/><text x="666" y="433">architectural design</text></g>
<g id="n-construction-projects" class="node green"><circle cx="964" cy="407" r="9.5"/><text x="964" y="426">construction projects</text></g>
<g id="n-risk-management" class="node green"><circle cx="818" cy="419" r="9.5"/><text x="818" y="437">risk management</text></g>
<g id="n-costs" class="node green"><circle cx="721" cy="443" r="9.5"/><text x="721" y="462">costs</text></g>
<g id="n-information-management" class="node green"><circle cx="922" cy="442" r="9.5"/><text x="922" y="460">information management</text></g>

<!-- main terms -->
<g id="n-sustainable-development" class="node blue"><circle cx="377" cy="273" r="17.5"/><text class="big" x="377" y="304" style="font-size:23px">sustainable development</text></g>
<g id="n-project-management" class="node blue"><circle cx="221" cy="34" r="24" style="fill-opacity:.85"/><text class="big" x="220" y="80" style="font-size:35.5px">project management</text></g>
</svg>
